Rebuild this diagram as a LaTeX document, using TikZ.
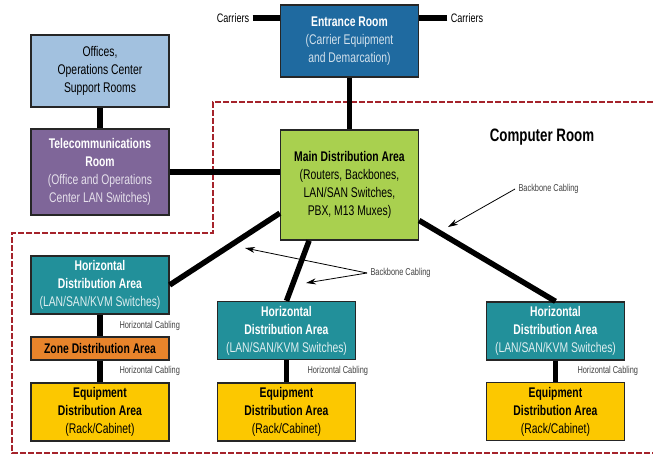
\documentclass[tikz,border=0pt]{standalone}
\usepackage{fontspec}
\setmainfont[FakeStretch=0.74]{Liberation Sans}
\usetikzlibrary{arrows.meta}
\definecolor{entrblue}{HTML}{1F6AA0}
\definecolor{offblue}{HTML}{A2C1DF}
\definecolor{telpurple}{HTML}{7F6699}
\definecolor{mdagreen}{HTML}{A9D04F}
\definecolor{hdateal}{HTML}{22909A}
\definecolor{zdaorange}{HTML}{E8842B}
\definecolor{edayellow}{HTML}{FCC800}
\definecolor{roomred}{HTML}{A5232B}
\begin{document}
\begin{tikzpicture}[x=1pt,y=-1pt,
    room/.style={draw=black!85,line width=1.3pt,align=center,inner sep=1pt,
      minimum width=138pt,font=\fontsize{14}{18}\selectfont},
    hda/.style={room,fill=hdateal,text=white,minimum height=58pt},
    eda/.style={room,fill=edayellow,minimum height=58pt},
    cable/.style={line width=5.5pt},
    lbl/.style={font=\fontsize{10}{11}\selectfont,text=black!75},
    callout/.style={-{Stealth[length=10pt,width=6pt]},line width=0.8pt}]
  \useasboundingbox (0,0) rectangle (653,456);
  % computer room boundary
  \draw[roomred,line width=2.8pt,dash pattern=on 6pt off 2pt]
    (653,102) -- (213,102) -- (213,233) -- (12,233) -- (12,453) -- (653,453);
  \node[font=\fontsize{18}{20}\selectfont\bfseries] (cr) at (542,137) {Computer Room};
  % rooms and areas
  \node[room,fill=entrblue,text=white,minimum height=72pt] (er) at (349.5,41)
    {\textbf{Entrance Room}\\\color{white!80!entrblue}(Carrier Equipment\\\color{white!80!entrblue}and Demarcation)};
  \node[room,fill=offblue,minimum height=72pt] (off) at (100,71)
    {Offices,\\Operations Center\\Support Rooms};
  \node[room,fill=telpurple,text=white,minimum height=86pt] (tr) at (100,172)
    {\textbf{Telecommunications}\\\textbf{Room}\\\color{white!80!telpurple}(Office and Operations\\\color{white!80!telpurple}Center LAN Switches)};
  \node[room,fill=mdagreen,minimum height=110pt] (mda) at (349.5,185)
    {\textbf{Main Distribution Area}\\(Routers, Backbones,\\LAN/SAN Switches,\\PBX, M13 Muxes)};
  \node[hda] (hdaA) at (100,285)
    {\textbf{Horizontal}\\\textbf{Distribution Area}\\\color{white!85!hdateal}(LAN/SAN/KVM Switches)};
  \node[room,fill=zdaorange,minimum height=23pt] (zda) at (100,348.5)
    {\textbf{Zone Distribution Area}};
  \node[eda] (edaA) at (100,412)
    {\textbf{Equipment}\\\textbf{Distribution Area}\\(Rack/Cabinet)};
  \node[hda] (hdaB) at (286.5,330.5)
    {\textbf{Horizontal}\\\textbf{Distribution Area}\\\color{white!85!hdateal}(LAN/SAN/KVM Switches)};
  \node[eda] (edaB) at (286.5,412)
    {\textbf{Equipment}\\\textbf{Distribution Area}\\(Rack/Cabinet)};
  \node[hda] (hdaC) at (555.5,331)
    {\textbf{Horizontal}\\\textbf{Distribution Area}\\\color{white!85!hdateal}(LAN/SAN/KVM Switches)};
  \node[eda] (edaC) at (555.5,411.5)
    {\textbf{Equipment}\\\textbf{Distribution Area}\\(Rack/Cabinet)};
  % carriers
  \node[font=\fontsize{12.3}{13}\selectfont] (carL) at (233,18) {Carriers};
  \node[font=\fontsize{12.3}{13}\selectfont] (carR) at (467,18) {Carriers};
  % cabling labels
  \node[lbl,anchor=west] (hcA1) at (116,326) {Horizontal Cabling};
  \node[lbl,anchor=west] (hcA2) at (116,371) {Horizontal Cabling};
  \node[lbl,anchor=west] (hcB) at (304,371) {Horizontal Cabling};
  \node[lbl,anchor=west] (hcC) at (574,371) {Horizontal Cabling};
  \node[lbl,anchor=west] (bbR) at (515,189) {Backbone Cabling};
  \node[lbl,anchor=west] (bbM) at (367,273) {Backbone Cabling};
  \coordinate (tipR) at (448,227);
  \coordinate (tipA) at (245,248);
  \coordinate (tipB) at (306,283);
  \begin{scope}[cable]
    \draw (carL.east) -- (carL.east -| er.west);
    \draw (carR.west) -- (carR.west -| er.east);
    \draw (er.south) -- (mda.north);
    \draw (off.south) -- (tr.north);
    \draw (tr.east) -- (tr.east -| mda.west);
    \draw (mda.202) -- (hdaA.east);
    \draw (mda.234) -- (hdaB.north);
    \draw (mda.-27) -- (hdaC.north);
    \draw (hdaA.south) -- (zda.north);
    \draw (zda.south) -- (edaA.north);
    \draw (hdaB.south) -- (edaB.north);
    \draw (hdaC.south) -- (edaC.north);
  \end{scope}
  \begin{scope}[callout]
    \draw (bbR.west) -- (tipR);
    \draw (bbM.west) -- (tipA);
    \draw (bbM.west) -- (tipB);
  \end{scope}
\end{tikzpicture}
\end{document}
